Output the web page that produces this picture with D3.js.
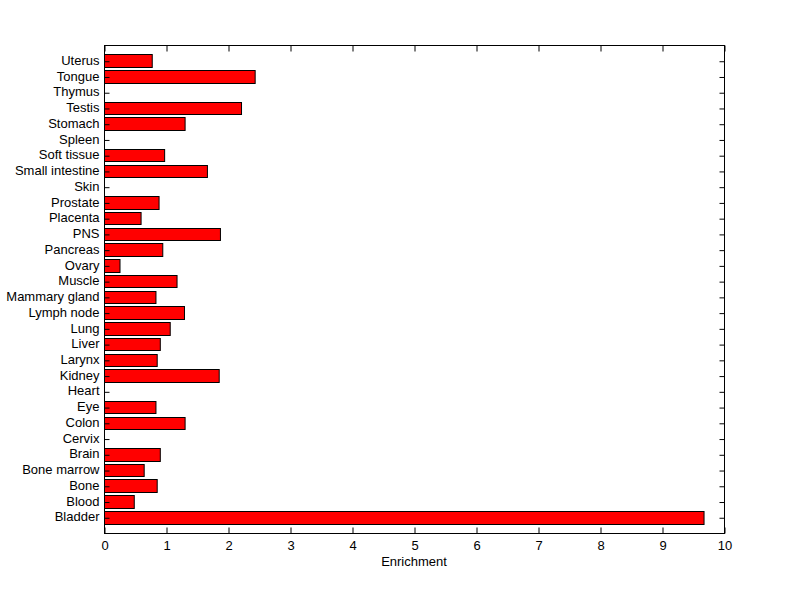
<!DOCTYPE html>
<html><head><meta charset="utf-8">
<script src="https://cdn.jsdelivr.net/npm/d3@7"></script>
<style>body{margin:0;background:#fff;}svg{display:block;}text{font-family:"Liberation Sans",Arial,sans-serif;font-size:13px;fill:#000;}</style>
</head><body>
<script>
const categories = ["Bladder","Blood","Bone","Bone marrow","Brain","Cervix","Colon","Eye","Heart","Kidney","Larynx","Liver","Lung","Lymph node","Mammary gland","Muscle","Ovary","Pancreas","PNS","Placenta","Prostate","Skin","Small intestine","Soft tissue","Spleen","Stomach","Testis","Thymus","Tongue","Uterus"];
const values = [9.67,0.48,0.85,0.64,0.90,0,1.30,0.83,0,1.85,0.85,0.90,1.06,1.29,0.83,1.17,0.25,0.94,1.87,0.59,0.88,0,1.66,0.97,0,1.30,2.21,0,2.43,0.77];
const xTicks = [0,1,2,3,4,5,6,7,8,9,10];
const xLabel = "Enrichment";

const W=800,H=599;
const L=104,R=724,T=45,B=533;
const svg=d3.select("body").append("svg").attr("width",W).attr("height",H);
const x=d3.scaleLinear().domain([0,10]).range([L,R]);
const y=d3.scaleLinear().domain([0,categories.length+1]).range([B,T]);
const bw=0.8;
const data=values.map((v,i)=>({v,i}));

svg.append("g").selectAll("rect").data(data.filter(d=>d.v>0)).join("rect")
  .attr("x",x(0)+0.5)
  .attr("y",d=>Math.round(y(d.i+1+bw/2))+0.5)
  .attr("width",d=>x(d.v)-x(0))
  .attr("height",d=>Math.round(y(d.i+1-bw/2))-Math.round(y(d.i+1+bw/2)))
  .attr("fill","#ff0000").attr("stroke","#000").attr("stroke-width",1);

// frame
svg.append("rect").attr("x",L+0.5).attr("y",T+0.5).attr("width",R-L).attr("height",B-T)
  .attr("fill","none").attr("stroke","#000");

// x axis bottom
const xb=svg.append("g").attr("transform",`translate(0.5,${B+0.5})`)
  .call(d3.axisBottom(x).tickValues(xTicks).tickFormat(d3.format("d")).tickSizeInner(-6).tickSizeOuter(0).tickPadding(7));
xb.select(".domain").remove();
xb.selectAll("text").style("font-size","13px");
const xt=svg.append("g").attr("transform",`translate(0.5,${T+0.5})`)
  .call(d3.axisTop(x).tickValues(xTicks).tickFormat("").tickSizeInner(-6).tickSizeOuter(0));
xt.select(".domain").remove();

// y axis
const yv=categories.map((c,i)=>i+1);
const yl=svg.append("g").attr("transform",`translate(${L+0.5},-0.5)`)
  .call(d3.axisLeft(y).tickValues(yv).tickFormat((d)=>categories[d-1]).tickSizeInner(-5).tickSizeOuter(0).tickPadding(5));
yl.select(".domain").remove();
yl.selectAll("line").attr("transform","translate(0,1)");
yl.selectAll("text").style("font-size","13px");
const yr=svg.append("g").attr("transform",`translate(${R+0.5},0.5)`)
  .call(d3.axisRight(y).tickValues(yv).tickFormat("").tickSizeInner(-5).tickSizeOuter(0));
yr.select(".domain").remove();

svg.append("text").attr("x",(L+R)/2).attr("y",566).attr("text-anchor","middle").text(xLabel);
</script>
</body></html>
